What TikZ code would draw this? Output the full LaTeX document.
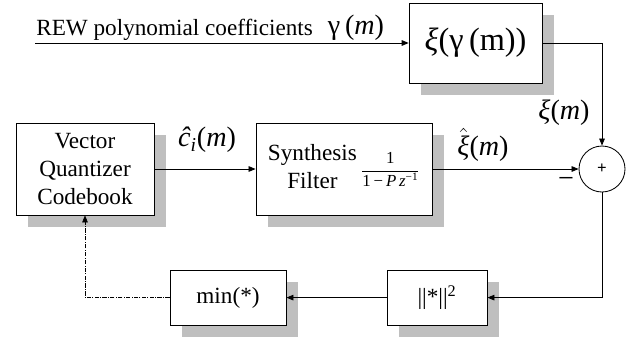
\documentclass[tikz,border=0pt]{standalone}
\usepackage{amsmath}
\usepackage{fontspec}
\setmainfont{Liberation Serif}
\usepackage{tikz}
\usetikzlibrary{arrows.meta,positioning,calc,shadows}

\begin{document}
\begin{tikzpicture}[
  font=\fontsize{16.5}{20}\selectfont,
  blk/.style={draw=black, fill=white, line width=0.6pt, align=center, inner sep=2pt,
              drop shadow={shadow xshift=0.3cm, shadow yshift=-0.3cm, fill=black!25, opacity=1}},
  sumnode/.style={circle, draw=black, fill=white, line width=0.6pt, minimum size=1.15cm, inner sep=0pt},
  conn/.style={draw=black, line width=0.6pt, -{Triangle[length=5pt,width=4pt]}},
  lbl/.style={inner sep=0pt, font=\fontsize{20}{23}\selectfont},
]
\useasboundingbox (0,0) rectangle (15.775,-8.425);

% --- blocks ---
\node[blk, minimum width=3.325cm, minimum height=2cm] (xi) at (11.89,-1.075)
  {\fontsize{23}{26}\selectfont\textit{ξ}(γ\,(m))};
\node[blk, minimum width=3.45cm, minimum height=2.3cm] (vq) at (2.125,-4.225)
  {Vector\\Quantizer\\Codebook};
\node[blk, minimum width=4.4cm, minimum height=2.3cm] (synth) at (8.6,-4.225)
  {\begin{tabular}{@{}c@{}}Synthesis\\Filter\end{tabular}\,%
   {\fontsize{12}{14}\selectfont$\dfrac{\mbox{1}}{\mbox{1\,−\,\textit{P\,z}\textsuperscript{−1}}}$}};
\node[sumnode] (sum) at (15.05,-4.225) {\fontsize{12}{14}\selectfont\textbf{+}};
\node[blk, minimum width=2.9cm, minimum height=1.375cm] (min) at (5.7,-7.44) {min(*)};
\node[blk, minimum width=2.5cm, minimum height=1.375cm] (norm) at (10.925,-7.44)
  {||*||\textsuperscript{2}};

% --- input and labels ---
\coordinate (in) at (0.875,-1.075);
\node[anchor=base west, inner sep=0pt] (rew) at (0.9,-0.875) {REW polynomial coefficients};
\node[lbl, anchor=base] (gam) at (8.9,-0.85) {γ\,(\textit{m})};
\node[lbl] (chat) at (5.175,-3.5) {\textit{ĉ}\textsubscript{\textit{i}}(\textit{m})};
\node[lbl] (xihat) at (12.075,-3.625) {$\hat{\mbox{\textit{ξ}}}$(\textit{m})};
\node[lbl] (xim) at (14.1,-2.825) {\textit{ξ}(\textit{m})};
\node[lbl] (neg) at (14.15,-4.55) {−};

% --- connectors ---
\draw[conn] (in) -- (xi.west);
\draw[conn] (xi.east) -| (sum.north);
\draw[conn] (vq.east) -- (synth.west);
\draw[conn] (synth.east) -- (sum.west);
\draw[conn] (sum.south) |- (norm.east);
\draw[conn] (norm.west) -- (min.east);
\draw[conn, densely dash dot, line width=0.4pt] (min.west) -| (vq.south);

\end{tikzpicture}
\end{document}
